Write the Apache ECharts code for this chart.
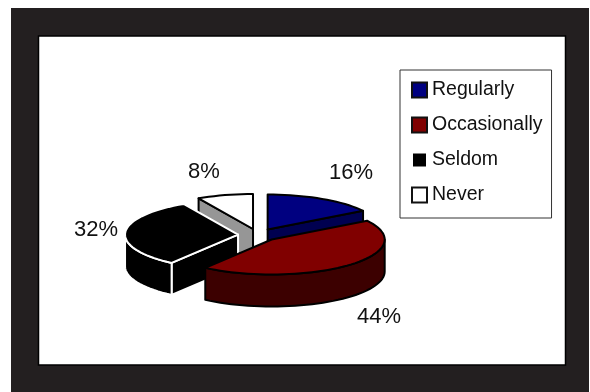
<!DOCTYPE html>
<html><head><meta charset="utf-8">
<style>html,body{margin:0;padding:0;background:#fff}#c{width:590px;height:392px}</style>
<script src="https://cdn.jsdelivr.net/npm/echarts@6/dist/echarts.min.js"></script>
</head><body><div id="c"></div>
<script>
const categories = ['Regularly', 'Occasionally', 'Seldom', 'Never'];
const values = [16, 44, 32, 8];
const topColors = ['#000080', '#800000', '#000000', '#ffffff'];
const sideColors = ['#000050', '#3c0000', '#000000', '#969696'];
const outlineColors = ['#000000', '#000000', '#ffffff', '#000000'];
const drawOrder = [3, 0, 2, 1];

const PIE = { cx: 258, cy: 235, rx: 113, ry: 35, depth: 32, explode: 20 };
const labelAnchors = [[351, 173], [379, 317], [96, 230], [204, 172]];
const total = values.reduce((a, b) => a + b, 0);
const rad = d => d * Math.PI / 180;
const starts = [];
values.reduce((acc, v, i) => { starts[i] = acc; return acc + v / total * 360; }, 0);

function rimPoints(ox, oy, a, b, dy) {
  const pts = [], n = Math.max(2, Math.ceil((b - a) / 3));
  for (let i = 0; i <= n; i++) {
    const t = rad(a + (b - a) * i / n);
    pts.push([ox + PIE.rx * Math.sin(t), oy - PIE.ry * Math.cos(t) + dy]);
  }
  return pts;
}
function poly(points, fill, stroke, lw) {
  return { type: 'polygon', shape: { points }, style: { fill, stroke, lineWidth: lw, lineJoin: 'round' } };
}
function renderSlice(i) {
  const a = starts[i], b = a + values[i] / total * 360, mid = rad((a + b) / 2);
  const ox = PIE.cx + PIE.explode * Math.sin(mid);
  const oy = PIE.cy - PIE.explode * (PIE.ry / PIE.rx) * Math.cos(mid);
  const lw = 2, out = outlineColors[i], side = sideColors[i], d = PIE.depth;
  const kids = [];
  // only the cut faces that look toward the viewer
  const cuts = [];
  if (Math.sin(rad(a)) < -1e-6) cuts.push(a);
  if (Math.sin(rad(b)) > 1e-6) cuts.push(b);
  cuts.forEach(t => {
    const p = rimPoints(ox, oy, t, t, 0)[0];
    kids.push(poly([[ox, oy], p, [p[0], p[1] + d], [ox, oy + d]], side, out, lw));
  });
  const w0 = Math.max(a, 90), w1 = Math.min(b, 270);
  if (w1 > w0) {
    const top = rimPoints(ox, oy, w0, w1, 0), bottom = rimPoints(ox, oy, w0, w1, d).reverse();
    kids.push(poly(top.concat(bottom), side, out, lw));
  }
  kids.push(poly([[ox, oy]].concat(rimPoints(ox, oy, a, b, 0)), topColors[i], out, lw));
  return { type: 'group', children: kids };
}
const series = drawOrder.map((i, z) => ({
  type: 'custom',
  name: categories[i],
  coordinateSystem: 'none',
  z: 2 + z,
  silent: true,
  itemStyle: i === 2
    ? { color: topColors[i], borderColor: '#fff', borderWidth: 2 }
    : { color: topColors[i], borderColor: '#111', borderWidth: 1.5 },
  data: [values[i]],
  renderItem: () => renderSlice(i)
}));
// percentage labels drawn as their own real text
series.push({
  type: 'custom',
  coordinateSystem: 'none',
  z: 10,
  silent: true,
  data: values.map((v, i) => [v, i]),
  renderItem: (p, api) => {
    const i = api.value(1);
    return { type: 'text', style: {
      text: api.value(0) + '%', x: labelAnchors[i][0], y: labelAnchors[i][1],
      align: 'center', verticalAlign: 'middle', fill: '#111',
      font: '22px "Liberation Sans", Arial, sans-serif' } };
  }
});
const chart = echarts.init(document.getElementById('c'), null, { renderer: 'canvas' });
chart.setOption({
  animation: false,
  backgroundColor: '#fff',
  graphic: [
    { type: 'rect', z: -10, shape: { x: 11, y: 8, width: 578, height: 384 }, style: { fill: '#231f20' } },
    { type: 'rect', z: -9, shape: { x: 38.5, y: 36, width: 527, height: 329 }, style: { fill: '#fff', stroke: '#000', lineWidth: 1.5 } }
  ],
  legend: {
    show: true,
    orient: 'vertical',
    left: 400, top: 70,
    width: 151,
    padding: [10, 9, 13, 11],
    backgroundColor: '#fff',
    borderColor: '#333',
    borderWidth: 1,
    itemGap: 15,
    itemWidth: 15, itemHeight: 15,
    icon: 'rect',
    selectedMode: false,
    data: categories,
    textStyle: { fontFamily: '"Liberation Sans", Arial, sans-serif', fontSize: 19.5, color: '#111' }
  },
  series
});
</script></body></html>
